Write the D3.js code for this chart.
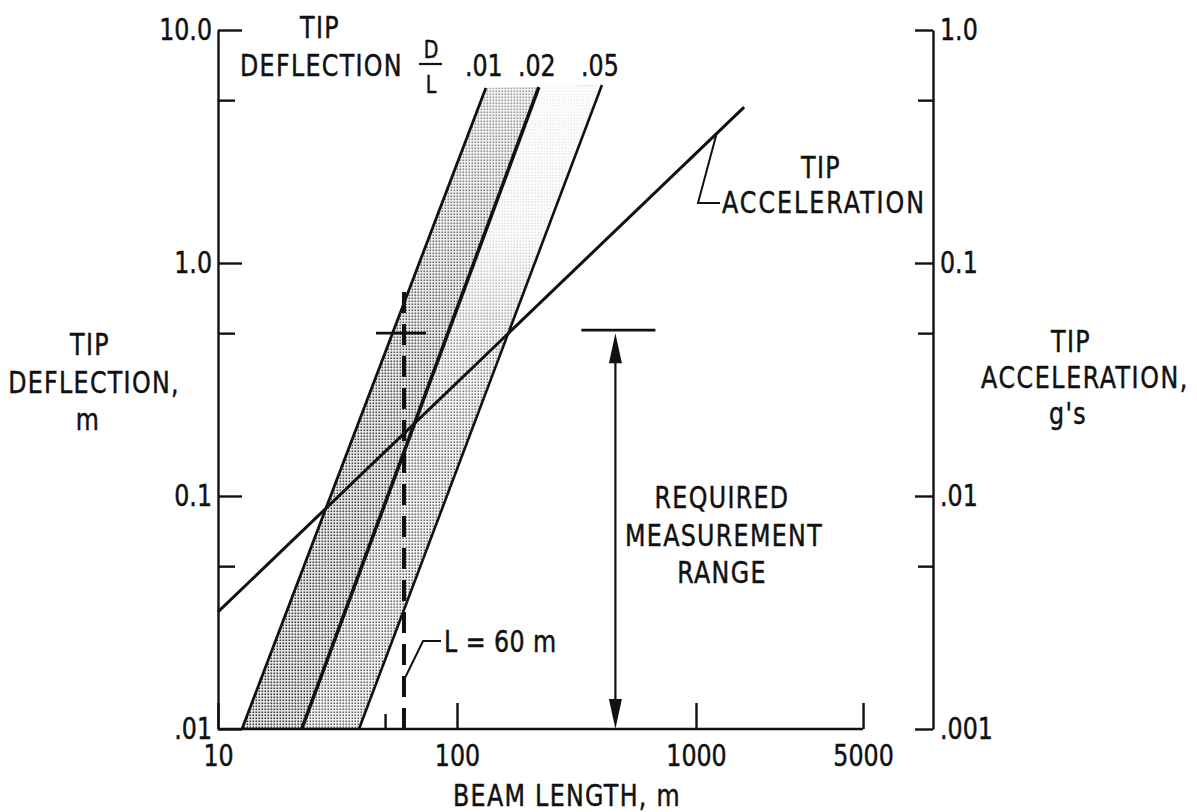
<!DOCTYPE html>
<html><head><meta charset="utf-8">
<script src="https://cdn.jsdelivr.net/npm/d3@7"></script>
<style>
 html,body{margin:0;padding:0;background:#fff;}
 svg text{font-family:"Liberation Sans Narrow","DejaVu Sans Condensed","Liberation Sans",sans-serif;fill:#111;stroke:#111;stroke-width:0.45px;}
</style></head>
<body><svg id="c" width="1197" height="812"></svg>
<script>
// ---- data ----
const xTicks = [10, 100, 1000, 5000];
const xTickLabels = ["10", "100", "1000", "5000"];
const xMinorTicks = [50];
const leftTicks = [10, 1, 0.1, 0.01];
const leftTickLabels = ["10.0", "1.0", "0.1", ".01"];
const leftMinorTicks = [5, 0.5, 0.05];
const rightTicks = [1, 0.1, 0.01, 0.001];
const rightTickLabels = ["1.0", "0.1", ".01", ".001"];
const rightMinorTicks = [0.5, 0.05, 0.005];

const ratioLabels = [".01", ".02", ".05"];
const ratio01Length = [12.6, 132];
const ratio01Defl = [0.01, 5.64];
const ratio02Length = [22.4, 220];
const ratio02Defl = [0.01, 5.69];
const ratio05Length = [38.9, 404];
const ratio05Defl = [0.01, 5.81];

const accelLength = [10, 1590];
const accelG = [0.00318, 0.467];
const accelLeaderLength = 1220;

const designLength = 60;          // L = 60 m
const designDeflRange = [0.01, 0.79];
const requiredDefl = 0.5;
const rangeLength = 460;
const rangeDefl = [0.5, 0.01];

// ---- scales ----
const svg = d3.select("#c");
svg.append("rect").attr("width",1197).attr("height",812).attr("fill","#fff");
const x = d3.scaleLog().domain([10, 10000]).range([218, 935]);
const yL = d3.scaleLog().domain([0.01, 10]).range([729, 30]);
const yR = d3.scaleLog().domain([0.001, 1]).range([729, 30]);
const FS = 30, SQ = 0.88;

// horizontal condensing around the text's own x position
function squeeze(sel){
  sel.each(function(){
    const t = d3.select(this);
    const ax = +(t.attr("x") || 0);
    const prev = t.attr("transform") || "";
    t.attr("transform", `${prev} translate(${ax},0) scale(${SQ},1) translate(${-ax},0)`);
  });
}

// stipple patterns + fade gradients
const defs = svg.append("defs");
function stipple(id, bg, dot, sz){
  const p = defs.append("pattern").attr("id", id).attr("patternUnits","userSpaceOnUse")
    .attr("width",3).attr("height",3);
  p.append("rect").attr("width",3).attr("height",3).attr("fill",bg);
  p.append("rect").attr("x",0.5).attr("y",0.5).attr("width",sz).attr("height",sz).attr("fill",dot);
}
stipple("pDark", "#ebebeb", "#333", 1.6);
stipple("pLight", "#f0f0f0", "#444", 1.45);
function grad(id, stops){
  const g = defs.append("linearGradient").attr("id", id).attr("gradientUnits","userSpaceOnUse")
    .attr("x1",0).attr("x2",0).attr("y1", yL(10)).attr("y2", yL(0.01));
  stops.forEach(s => g.append("stop").attr("offset", s[0]).attr("stop-color","#fff").attr("stop-opacity", s[1]));
}
grad("fDark", [[0.05,0.55],[0.3,0.3],[0.5,0.1],[1,0]]);
grad("fLight", [[0.05,0.93],[0.3,0.82],[0.45,0.35],[0.6,0.12],[1,0.05]]);

const ratios = [
  {label: ratioLabels[0], L: ratio01Length, D: ratio01Defl, w: 2.8},
  {label: ratioLabels[1], L: ratio02Length, D: ratio02Defl, w: 3.6},
  {label: ratioLabels[2], L: ratio05Length, D: ratio05Defl, w: 2.6}
];
const pts = r => r.L.map((l,i) => [x(l), yL(r.D[i])]);
const line = d3.line();

function band(a, b, pat, fade){
  const d = line(pts(a).concat(pts(b).reverse())) + "Z";
  svg.append("path").attr("d", d).attr("fill", pat);
  svg.append("path").attr("d", d).attr("fill", fade);
}
band(ratios[0], ratios[1], "url(#pDark)", "url(#fDark)");
band(ratios[1], ratios[2], "url(#pLight)", "url(#fLight)");

ratios.forEach(r => {
  svg.append("path").attr("d", line(pts(r))).attr("fill","none")
    .attr("stroke","#111").attr("stroke-width", r.w);
  const top = pts(r)[1];
  svg.append("text").attr("x", top[0]-2).attr("y", 76).attr("text-anchor","middle")
    .attr("font-size", FS).text(r.label).call(squeeze);
});

// acceleration line (right axis, g's)
svg.append("path").attr("d", line(accelLength.map((l,i)=>[x(l), yR(accelG[i])])))
  .attr("fill","none").attr("stroke","#111").attr("stroke-width",3);

// ---- axes ----
function styleAxis(g){
  g.attr("font-family", null).attr("font-size", null);
  g.selectAll("text").attr("font-size", FS).attr("fill","#111").call(squeeze);
  g.selectAll("line,path").attr("stroke","#111").attr("stroke-width",2.4);
}
svg.append("g").attr("transform","translate(218,0)")
  .call(d3.axisLeft(yL).tickValues(leftTicks).tickFormat((d,i)=>leftTickLabels[i]).tickSizeInner(-24).tickSizeOuter(0).tickPadding(6))
  .call(styleAxis);
svg.append("g").attr("transform","translate(218,0)")
  .call(d3.axisLeft(yL).tickValues(leftMinorTicks).tickFormat("").tickSizeInner(-17).tickSizeOuter(0))
  .call(styleAxis).select(".domain").remove();
svg.append("g").attr("transform","translate(933,0)")
  .call(d3.axisRight(yR).tickValues(rightTicks).tickFormat((d,i)=>rightTickLabels[i]).tickSizeInner(-18).tickSizeOuter(0).tickPadding(7))
  .call(styleAxis);
svg.append("g").attr("transform","translate(933,0)")
  .call(d3.axisRight(yR).tickValues(rightMinorTicks).tickFormat("").tickSizeInner(-15).tickSizeOuter(0))
  .call(styleAxis).select(".domain").remove();
const bx = svg.append("g").attr("transform","translate(0,729)")
  .call(d3.axisBottom(x).tickValues(xTicks).tickFormat((d,i)=>xTickLabels[i]).tickSizeInner(-26).tickSizeOuter(0).tickPadding(16))
  .call(styleAxis);
bx.select(".domain").remove();
svg.append("g").attr("transform","translate(0,729)")
  .call(d3.axisBottom(x).tickValues(xMinorTicks).tickFormat("").tickSizeInner(-15).tickSizeOuter(0))
  .call(styleAxis).select(".domain").remove();
svg.append("line").attr("x1", x(10)).attr("x2", x(5000)).attr("y1",729).attr("y2",729)
  .attr("stroke","#111").attr("stroke-width",2.4);

// ---- L = 60 m dashed line & crosshair ----
svg.append("line").attr("x1", x(designLength)).attr("x2", x(designLength))
  .attr("y1", yL(designDeflRange[0])).attr("y2", yL(designDeflRange[1]))
  .attr("stroke","#111").attr("stroke-width",4).attr("stroke-dasharray","21,11");
svg.append("line").attr("x1", x(designLength)-28).attr("x2", x(designLength)+22)
  .attr("y1", yL(requiredDefl)).attr("y2", yL(requiredDefl)).attr("stroke","#111").attr("stroke-width",2.8);

// ---- required measurement range arrow ----
const ax = x(rangeLength);
const yt = yL(rangeDefl[0]), yb = yL(rangeDefl[1]);
svg.append("line").attr("x1", ax-34).attr("x2", ax+40).attr("y1", yt-3).attr("y2", yt-3)
  .attr("stroke","#111").attr("stroke-width",2.8);
svg.append("line").attr("x1", ax).attr("x2", ax).attr("y1", yt+20).attr("y2", yb-20)
  .attr("stroke","#111").attr("stroke-width",2.2);
svg.append("path").attr("d", `M${ax},${yt} L${ax-6.5},${yt+30} L${ax+6.5},${yt+30} Z`).attr("fill","#111");
svg.append("path").attr("d", `M${ax},${yb} L${ax-6.5},${yb-30} L${ax+6.5},${yb-30} Z`).attr("fill","#111");

// ---- texts ----
function txt(s, xx, yy, anchor, opts){
  return svg.append("text").attr("x", xx).attr("y", yy).attr("text-anchor", anchor||"start")
    .attr("font-size", (opts&&opts.fs)||FS).attr("letter-spacing", (opts&&opts.ls!=null)?opts.ls:1.5)
    .text(s).call(squeeze);
}
txt("TIP", 320, 38, "middle");
txt("DEFLECTION", 240, 76, "start");
txt("D", 431, 58, "middle", {fs:24, ls:0});
svg.append("line").attr("x1",419).attr("x2",442).attr("y1",64).attr("y2",64).attr("stroke","#111").attr("stroke-width",2.2);
txt("L", 431, 93, "middle", {fs:24, ls:0});

txt("TIP", 90, 355, "middle");
txt("DEFLECTION,", 94, 393, "middle");
txt("m", 88, 430, "middle");
txt("TIP", 1071, 352, "middle");
txt("ACCELERATION,", 1085, 388, "middle", {ls:1.8});
txt("g's", 1068, 424, "middle");
txt("BEAM LENGTH,  m", 567, 806, "middle");

// tip acceleration annotation
const slope = Math.log(accelG[1]/accelG[0]) / Math.log(accelLength[1]/accelLength[0]);
const la = [x(accelLeaderLength), yR(accelG[0]*Math.pow(accelLeaderLength/accelLength[0], slope))];
svg.append("path").attr("d", `M${la[0]},${la[1]} L698,203 L720,203`)
  .attr("fill","none").attr("stroke","#111").attr("stroke-width",2);
txt("TIP", 821, 178, "middle");
txt("ACCELERATION", 722, 213, "start", {ls:2.3});

// L = 60 m annotation
svg.append("path").attr("d", `M${x(designLength)+1},678 L423,641 L441,641`).attr("fill","none").attr("stroke","#111").attr("stroke-width",2);
txt("L = 60 m", 444, 652, "start", {ls:0.5});

txt("REQUIRED", 722, 508, "middle");
txt("MEASUREMENT", 724, 546, "middle");
txt("RANGE", 722, 583, "middle");
</script></body></html>
